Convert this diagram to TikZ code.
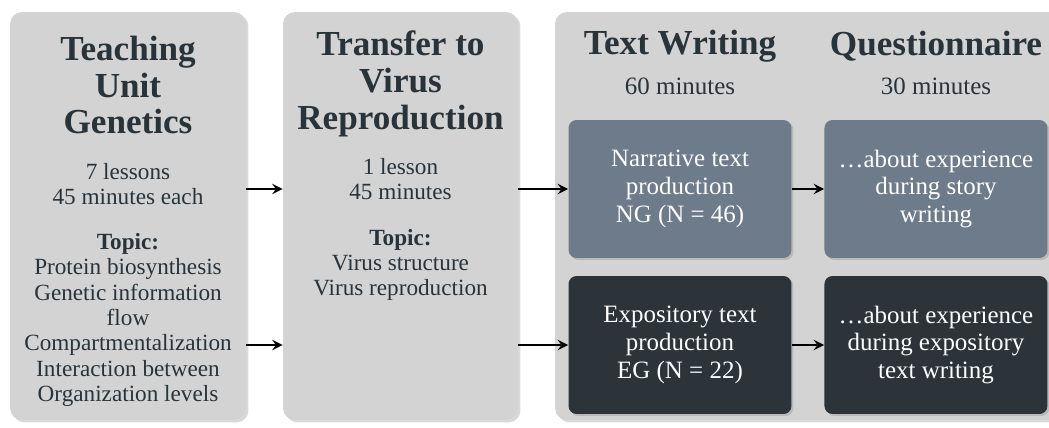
\documentclass[tikz,border=0pt]{standalone}
\usepackage{fontspec}
\setmainfont{Liberation Serif}
\usetikzlibrary{shapes,arrows,shadows}
\definecolor{panelgrey}{HTML}{D3D3D3}
\definecolor{inktext}{HTML}{29333A}
\definecolor{narrblue}{HTML}{6E7B8B}
\definecolor{expodark}{HTML}{2C3339}
\tikzstyle{phase} = [rectangle, rounded corners=0.24cm, fill=panelgrey, minimum height=8.16cm, drop shadow={shadow xshift=0.05cm, shadow yshift=-0.05cm, opacity=0.3}]
\tikzstyle{group} = [rectangle, rounded corners=0.16cm, minimum width=4.46cm, minimum height=2.76cm, align=center, text=white, font=\fontsize{14.2}{15.8}\selectfont, drop shadow={shadow xshift=0.04cm, shadow yshift=-0.04cm, opacity=0.3}]
\tikzstyle{heading} = [align=center, text=inktext, inner sep=0pt, font=\bfseries\fontsize{20}{21}\selectfont]
\tikzstyle{info} = [align=center, text=inktext, inner sep=0pt, font=\fontsize{13.2}{14.4}\selectfont]
\tikzstyle{arrow} = [line width=1.6pt, ->, >=stealth]

\begin{document}
\begin{tikzpicture}[x=0.02cm, y=-0.02cm]
\useasboundingbox (0,0) rectangle (1049,427);

% the three grey phases
\node (unit) [phase, minimum width=4.72cm] at (128,216) {};
\node (transfer) [phase, minimum width=4.7cm] at (400.5,216) {};
\node (writing) [phase, minimum width=10.5cm] at (817.5,216) {};

\node (unithead) [heading] at (128,85) {Teaching\\Unit\\Genetics};
\node (unittime) [info] at (128,184) {7 lessons\\45 minutes each};
\node (unittopic) [info] at (128,320) {\textbf{Topic:}\\Protein biosynthesis\\Genetic information\\flow\\Compartmentalization\\Interaction between\\Organization levels};

\node (transhead) [heading] at (400.5,84) {Transfer to\\Virus\\Reproduction};
\node (transtime) [info] at (400.5,179) {1 lesson\\45 minutes};
\node (transtopic) [info] at (400.5,265) {\textbf{Topic:}\\Virus structure\\Virus reproduction};

\node (writehead) [heading] at (680,46) {Text Writing};
\node (writetime) [info, font=\fontsize{14.2}{15}\selectfont] at (680,86) {60 minutes};
\node (questhead) [heading] at (936,46) {Questionnaire};
\node (questtime) [info, font=\fontsize{14.2}{15}\selectfont] at (936,86) {30 minutes};

% groups and their questionnaires
\node (narr) [group, fill=narrblue] at (680,189) {Narrative text\\production\\NG (N = 46)};
\node (narrq) [group, fill=narrblue, right of=narr, node distance=5.12cm] {\ldots about experience\\during story\\writing};
\node (expo) [group, fill=expodark] at (680,345) {Expository text\\production\\EG (N = 22)};
\node (expoq) [group, fill=expodark, right of=expo, node distance=5.12cm] {\ldots about experience\\during expository\\text writing};

\draw [arrow] (unit.east |- narr) -- (transfer.west |- narr);
\draw [arrow] (unit.east |- expo) -- (transfer.west |- expo);
\draw [arrow] (transfer.east |- narr) -- (narr.west);
\draw [arrow] (transfer.east |- expo) -- (expo.west);
\draw [arrow] (narr) -- (narrq);
\draw [arrow] (expo) -- (expoq);

\end{tikzpicture}
\end{document}
